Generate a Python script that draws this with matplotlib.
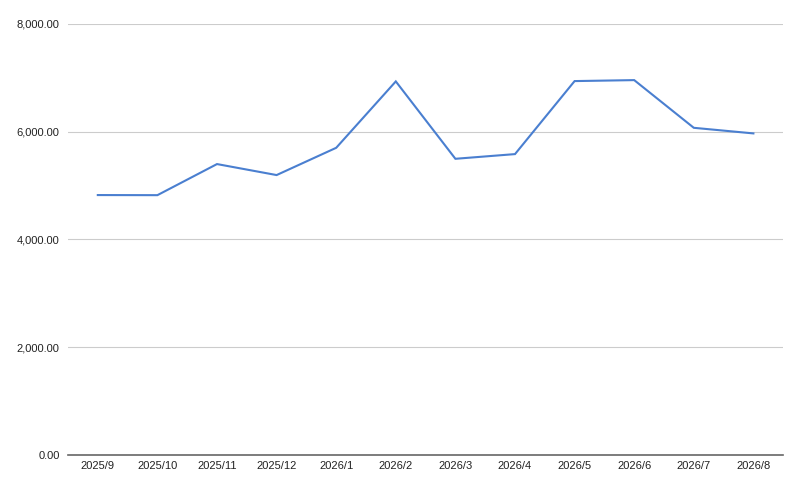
import matplotlib.pyplot as plt
from matplotlib.ticker import FuncFormatter

months = ['2025/9', '2025/10', '2025/11', '2025/12', '2026/1', '2026/2',
          '2026/3', '2026/4', '2026/5', '2026/6', '2026/7', '2026/8']
values = [4824, 4822, 5399, 5195, 5701, 6933, 5497, 5584, 6939, 6957, 6072, 5968]
yticks = [0, 2000, 4000, 6000, 8000]


def main():
    plt.rcParams['font.family'] = ['Liberation Sans', 'DejaVu Sans']
    fig = plt.figure(figsize=(8, 4.91), dpi=100)
    ax = fig.add_axes([0.085, 0.0733, 0.894, 0.878])

    x = list(range(len(months)))
    ax.plot(x, values, color='#4a7fd0', linewidth=1.5, solid_joinstyle='miter')

    ax.set_xlim(-0.5, len(months) - 0.5)
    ax.set_ylim(0, 8000)
    ax.set_yticks(yticks)
    ax.yaxis.set_major_formatter(FuncFormatter(lambda v, p: f'{v:,.2f}'))
    ax.set_xticks(x)
    ax.set_xticklabels(months)

    # light horizontal gridlines, darker baseline
    ax.grid(axis='y', color='#cccccc', linewidth=0.8)
    ax.set_axisbelow(True)
    for side in ['top', 'right', 'left']:
        ax.spines[side].set_visible(False)
    ax.spines['bottom'].set_color('#666666')
    ax.spines['bottom'].set_linewidth(1.2)
    ax.tick_params(axis='both', length=0, labelsize=8, colors='#222222')
    ax.tick_params(axis='y', pad=6)
    ax.tick_params(axis='x', pad=4)

    fig.savefig('out.png', dpi=100)


if __name__ == "__main__":
    main()
